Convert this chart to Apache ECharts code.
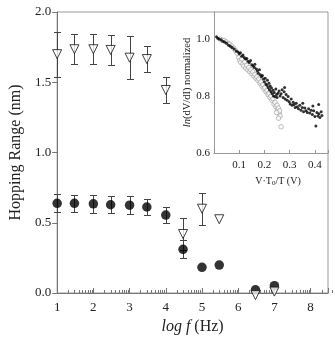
<!DOCTYPE html>
<html><head><meta charset="utf-8">
<script src="https://cdn.jsdelivr.net/npm/echarts@6/dist/echarts.min.js"></script>
<style>html,body{margin:0;padding:0;background:#fff}#c{width:335px;height:340px}</style>
</head><body><div id="c"></div>
<script>
// ---- main plot data ----
const logF = [1, 1.477, 2, 2.477, 3, 3.477, 4, 4.477, 5, 5.477, 6.477, 7];
const triVal = [1.70, 1.735, 1.735, 1.73, 1.675, 1.665, 1.445, 0.42, 0.60, 0.525, -0.015, 0.01];
const triErr = [0.16, 0.105, 0.105, 0.105, 0.155, 0.09, 0.093, 0.115, 0.115, null, null, null];
const circVal = [0.638, 0.638, 0.635, 0.628, 0.625, 0.612, 0.555, 0.311, 0.183, 0.199, 0.023, 0.052];
const circErr = [0.065, 0.063, 0.065, 0.062, 0.062, 0.058, 0.055, 0.064, null, null, null, null];
const decades = [1, 2, 3, 4, 5, 6, 7, 8];
const minorMult = [2, 3, 4, 5, 6, 7, 8, 9];

// ---- inset data ----
const insetBlack = [
[0.010,1.008],[0.015,1.003],[0.020,1.000],[0.028,0.998],[0.035,0.992],[0.042,0.990],[0.050,0.985],
[0.058,0.978],[0.065,0.975],[0.072,0.970],[0.080,0.965],[0.088,0.958],[0.095,0.955],[0.100,0.948],
[0.105,0.952],[0.110,0.940],[0.115,0.944],[0.120,0.935],[0.125,0.930],[0.130,0.932],[0.135,0.922],
[0.140,0.918],[0.145,0.925],[0.150,0.910],[0.155,0.905],[0.160,0.900],[0.162,0.912],[0.168,0.895],
[0.172,0.888],[0.176,0.880],[0.180,0.892],[0.184,0.875],[0.188,0.868],[0.192,0.872],[0.196,0.860],
[0.200,0.850],[0.203,0.862],[0.206,0.842],[0.210,0.838],[0.212,0.855],[0.215,0.830],[0.218,0.845],
[0.220,0.822],[0.223,0.835],[0.226,0.815],[0.228,0.828],[0.231,0.808],[0.234,0.820],[0.236,0.800],
[0.239,0.812],[0.242,0.798],[0.245,0.825],[0.248,0.805],[0.250,0.795],[0.254,0.810],[0.258,0.818],
[0.262,0.800],[0.266,0.808],[0.270,0.822],[0.274,0.795],[0.278,0.815],[0.280,0.830],[0.282,0.790],
[0.286,0.805],[0.290,0.785],[0.294,0.798],[0.298,0.780],[0.302,0.772],[0.306,0.790],[0.310,0.768],
[0.314,0.778],[0.318,0.770],[0.322,0.760],[0.326,0.775],[0.330,0.762],[0.335,0.755],[0.340,0.768],
[0.345,0.750],[0.350,0.760],[0.352,0.775],[0.355,0.745],[0.360,0.758],[0.365,0.748],[0.370,0.742],
[0.375,0.755],[0.380,0.740],[0.385,0.750],[0.390,0.735],[0.392,0.765],[0.395,0.748],[0.400,0.728],
[0.404,0.695],[0.408,0.742],[0.412,0.730],[0.415,0.770],[0.416,0.738],[0.420,0.725],[0.425,0.745],[0.428,0.732]
];
const insetGray = [
[0.025,1.000],[0.032,0.996],[0.040,0.995],[0.048,0.990],[0.055,0.985],[0.062,0.982],[0.070,0.975],
[0.078,0.968],[0.085,0.960],[0.092,0.950],[0.098,0.935],[0.102,0.925],[0.106,0.918],[0.110,0.930],
[0.114,0.912],[0.118,0.905],[0.122,0.920],[0.126,0.898],[0.130,0.908],[0.134,0.892],[0.138,0.900],
[0.142,0.885],[0.146,0.892],[0.150,0.878],[0.154,0.885],[0.158,0.870],[0.162,0.876],[0.166,0.862],
[0.170,0.868],[0.174,0.855],[0.178,0.860],[0.182,0.845],[0.186,0.850],[0.190,0.835],[0.194,0.840],
[0.198,0.825],[0.202,0.830],[0.206,0.815],[0.210,0.820],[0.214,0.805],[0.218,0.810],[0.222,0.795],
[0.226,0.800],[0.230,0.785],[0.234,0.790],[0.238,0.772],[0.242,0.778],[0.246,0.762],[0.250,0.768],
[0.252,0.750],[0.255,0.758],[0.258,0.740],[0.260,0.748],[0.262,0.730],[0.256,0.722],[0.248,0.742],[0.266,0.692]
];

const FONT = 'Liberation Serif';
const AX = '#777';

const triErrData = [], circErrData = [];
logF.forEach((x, i) => {
  if (triErr[i] != null) triErrData.push([x, triVal[i] - triErr[i], triVal[i] + triErr[i]]);
  if (circErr[i] != null) circErrData.push([x, circVal[i] - circErr[i], circVal[i] + circErr[i]]);
});
const minorTicks = [];
decades.forEach(d => minorMult.forEach(m => minorTicks.push([d + Math.log10(m), 0])));

function errRender(params, api) {
  const x = api.value(0), lo = api.value(1), hi = api.value(2);
  const pLo = api.coord([x, lo]), pHi = api.coord([x, hi]);
  const px = Math.round(pLo[0]) + 0.5;
  const yl = Math.round(pLo[1]) + 0.5, yh = Math.round(pHi[1]) + 0.5;
  const w = 3.5;
  const style = { stroke: '#444', lineWidth: 1 };
  return { type: 'group', children: [
    { type: 'line', shape: { x1: px, y1: yl, x2: px, y2: yh }, style },
    { type: 'line', shape: { x1: px - w, y1: yl, x2: px + w, y2: yl }, style },
    { type: 'line', shape: { x1: px - w, y1: yh, x2: px + w, y2: yh }, style }
  ]};
}
function minorRender(params, api) {
  const p = api.coord([api.value(0), api.value(1)]);
  const px = Math.round(p[0]) + 0.5;
  return { type: 'line', shape: { x1: px, y1: p[1], x2: px, y2: p[1] - 3 }, style: { stroke: AX, lineWidth: 1 } };
}

const chart = echarts.init(document.getElementById('c'), null, { renderer: 'canvas' });
chart.setOption({
  animation: false,
  backgroundColor: '#fff',
  textStyle: { fontFamily: FONT },
  grid: [
    { left: 46, right: 7, top: 12, bottom: 47, show: true, borderColor: '#999', borderWidth: 1, backgroundColor: 'transparent' },
    { left: 214, right: 7, top: 12, bottom: 187 }
  ],
  xAxis: [
    {
      gridIndex: 0, type: 'value', min: 1, max: 8.48, interval: 1,
      axisLine: { show: true, lineStyle: { color: AX } },
      axisTick: { show: true, inside: true, length: 5, lineStyle: { color: AX } },
      splitLine: { show: false },
      axisLabel: { color: '#222', fontSize: 13, fontFamily: FONT, margin: 8,
        formatter: v => Number.isInteger(v) ? String(v) : '' },
      name: '{i|log f} (Hz)', nameLocation: 'middle', nameGap: 20,
      nameTextStyle: { fontSize: 16, color: '#222', fontFamily: FONT,
        rich: { i: { fontStyle: 'italic', fontSize: 16, fontFamily: FONT, color: '#222' } } }
    },
    {
      gridIndex: 1, type: 'value', min: 0, max: 0.452, interval: 0.1,
      axisLine: { show: true, lineStyle: { color: '#999' } },
      axisTick: { show: true, inside: true, length: 3, lineStyle: { color: '#999' } },
      splitLine: { show: false },
      axisLabel: { color: '#222', fontSize: 11, fontFamily: FONT, margin: 7,
        formatter: v => (v > 0.05 && v < 0.45) ? v.toFixed(1) : '' },
      name: '{a|V·T}{s|0}{a|/T (V)}', nameLocation: 'middle', nameGap: 22,
      nameTextStyle: { fontSize: 10, color: '#222', fontFamily: FONT, padding: [0, 0, 0, 14],
        rich: { a: { fontSize: 10, fontFamily: FONT, color: '#222' },
                s: { fontSize: 7, fontFamily: FONT, color: '#222', padding: [5, 0, 0, 0] } } }
    }
  ],
  yAxis: [
    {
      gridIndex: 0, type: 'value', min: 0, max: 2, interval: 0.5,
      axisLine: { show: true, lineStyle: { color: AX } },
      axisTick: { show: true, inside: false, length: 5, lineStyle: { color: AX } },
      splitLine: { show: false },
      axisLabel: { color: '#222', fontSize: 13, fontFamily: FONT, margin: 6, formatter: v => v.toFixed(1) },
      name: 'Hopping Range (nm)', nameLocation: 'middle', nameGap: 28, nameRotate: 90,
      nameTextStyle: { fontSize: 16, color: '#222', fontFamily: FONT }
    },
    {
      gridIndex: 1, type: 'value', min: 0.6, max: 1.095, interval: 0.2,
      axisLine: { show: true, lineStyle: { color: '#999' } },
      axisTick: { show: false },
      splitLine: { show: false },
      axisLabel: { color: '#222', fontSize: 11, fontFamily: FONT, margin: 4,
        formatter: v => (Math.abs(v * 5 - Math.round(v * 5)) < 1e-6) ? v.toFixed(1) : '' },
      name: '{i|ln}(dV/dI) normalized', nameLocation: 'middle', nameGap: 18, nameRotate: 90,
      nameTextStyle: { fontSize: 10.5, color: '#222', fontFamily: FONT,
        rich: { i: { fontStyle: 'italic', fontSize: 10.5, fontFamily: FONT, color: '#222' } } }
    }
  ],
  series: [
    { type: 'custom', xAxisIndex: 0, yAxisIndex: 0, data: minorTicks, renderItem: minorRender, clip: false, z: 1, silent: true },
    { type: 'custom', xAxisIndex: 0, yAxisIndex: 0, data: circErrData, renderItem: errRender,
      encode: { x: 0, y: [1, 2] }, clip: false, z: 2 },
    { type: 'custom', xAxisIndex: 0, yAxisIndex: 0, data: triErrData, renderItem: errRender,
      encode: { x: 0, y: [1, 2] }, clip: false, z: 2 },
    { type: 'scatter', xAxisIndex: 0, yAxisIndex: 0, data: logF.map((x, i) => [x, circVal[i]]),
      symbol: 'circle', symbolSize: 9.5, itemStyle: { color: '#000' }, clip: false, z: 3 },
    { type: 'scatter', xAxisIndex: 0, yAxisIndex: 0, data: logF.map((x, i) => [x, triVal[i]]),
      symbol: 'triangle', symbolRotate: 180, symbolSize: [9, 9],
      itemStyle: { color: '#fff', borderColor: '#111', borderWidth: 1 }, clip: false, z: 4 },
    { type: 'scatter', xAxisIndex: 1, yAxisIndex: 1, data: insetGray,
      symbol: 'circle', symbolSize: 4.5, itemStyle: { color: '#fff', borderColor: '#999', borderWidth: 0.8 }, z: 3 },
    { type: 'scatter', xAxisIndex: 1, yAxisIndex: 1, data: insetBlack,
      symbol: 'circle', symbolSize: 3, itemStyle: { color: '#000' }, z: 4 }
  ]
});
</script></body></html>
